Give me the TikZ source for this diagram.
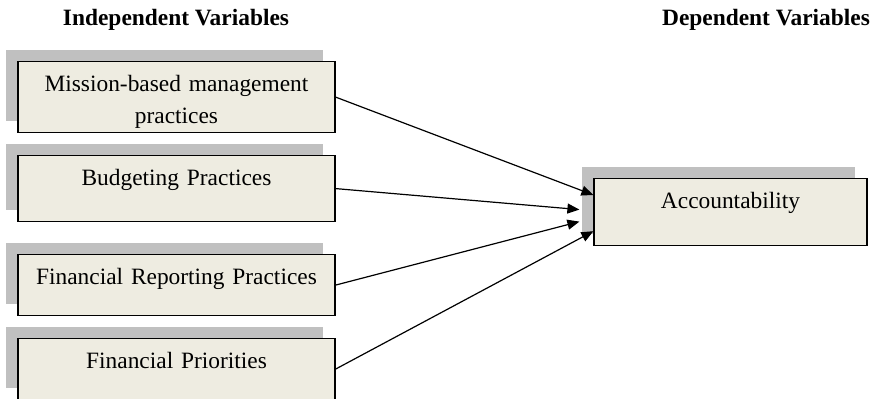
\documentclass[tikz,border=0pt]{standalone}
\usepackage{fontspec}
\setmainfont{Liberation Serif}
\usetikzlibrary{arrows.meta,shadows,calc}
\definecolor{boxfill}{HTML}{EEECE1}
\definecolor{shadowgray}{RGB}{192,192,192}
\begin{document}
\begin{tikzpicture}[x=0.5pt,y=-0.5pt,>={Triangle[length=6pt,width=5pt]},
    varbox/.style={draw=black,fill=boxfill,line width=0.6pt,inner sep=0pt,
      align=center,anchor=north,text height=15pt,
      drop shadow={shadow xshift=-6pt,shadow yshift=6pt,fill=shadowgray,opacity=1}},
    vartitle/.style={font=\fontsize{11.7}{16}\selectfont\bfseries},
    every node/.append style={font=\fontsize{11.7}{16}\selectfont}]
\useasboundingbox (0,0) rectangle (873,399);
% titles
\node[vartitle] (indep) at (176,20) {Independent Variables};
\node[vartitle] (dep) at (766,20) {Dependent Variables};
% independent variables
\node[varbox,text width=158.5pt,text depth=20.5pt] (mission) at (176.5,61) {Mission-based management\\practices};
\node[varbox,text width=158.5pt,text depth=18pt] (budget) at (176.5,155) {Budgeting Practices};
\node[varbox,text width=158.5pt,text depth=15.5pt] (report) at (176.5,254) {Financial Reporting Practices};
\node[varbox,text width=158.5pt,text depth=15.5pt] (prior) at (176.5,338) {Financial Priorities};
% dependent variable
\node[varbox,text width=136.5pt,text depth=18.5pt] (acc) at (730.5,178) {Accountability};
\coordinate (in1) at ($(acc.north west)+(0,17)$);
\coordinate (in2) at ($(acc.west)+(-14,-2.5)$);
\coordinate (in3) at ($(acc.west)+(-14,9.5)$);
\coordinate (in4) at ($(acc.south west)+(0,-15)$);
\draw[->,line width=0.6pt](mission.east)--(in1);
\draw[->,line width=0.6pt](budget.east)--(in2);
\draw[->,line width=0.6pt](report.east)--(in3);
\draw[->,line width=0.6pt](prior.east)--(in4);
\end{tikzpicture}
\end{document}
